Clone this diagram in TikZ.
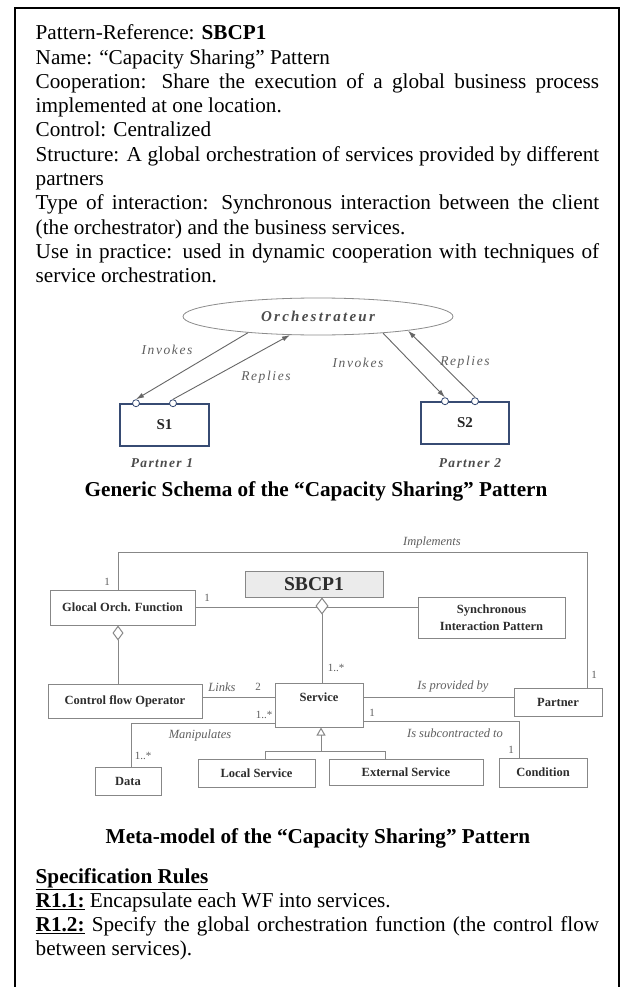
\documentclass[tikz,border=0pt]{standalone}
\usepackage{fontspec}
\setmainfont{Liberation Serif}
\usepackage{graphicx}
\usetikzlibrary{arrows.meta,shapes.geometric}
\definecolor{sbord}{RGB}{55,75,115}
\definecolor{lblc}{RGB}{95,95,95}
\definecolor{mgray}{RGB}{135,135,135}
\definecolor{mtext}{RGB}{45,45,45}
\newcommand\bodyfont{\fontsize{21.2}{24.25}\selectfont}
\newcommand\jline[1]{\makebox[563.5pt][s]{#1}}
\begin{document}
\begin{tikzpicture}[x=1pt,y=-1pt,
  txt/.style={anchor=base west, inner sep=0pt, font=\bodyfont},
  captxt/.style={anchor=base, inner sep=0pt, font=\bodyfont\bfseries},
  sbox/.style={draw=sbord, line width=1.6pt, inner sep=0pt, font=\fontsize{15}{17}\selectfont\bfseries, text=black!85},
  port/.style={circle, draw=sbord, fill=white, line width=0.8pt, minimum size=7pt, inner sep=0pt},
  sarr/.style={draw=black!60, line width=0.9pt, -{Latex[length=8pt,width=5pt]}},
  slbl/.style={inner sep=0pt, text=lblc, font=\fontsize{13.5}{15}\selectfont\itshape\addfontfeatures{LetterSpace=12}},
  plbl/.style={inner sep=0pt, text=black!70, font=\fontsize{13.5}{15}\selectfont\bfseries\itshape\addfontfeatures{LetterSpace=10}},
  mbox/.style={draw=mgray, line width=1pt, inner sep=0pt, text=mtext, font=\fontsize{12.5}{17}\selectfont\bfseries},
  mln/.style={draw=mgray, line width=1pt},
  mlbl/.style={inner sep=0pt, text=lblc, font=\fontsize{12.5}{14}\selectfont\itshape},
  mnum/.style={inner sep=0pt, text=lblc, font=\fontsize{11}{12}\selectfont}
]
\useasboundingbox (0,0) rectangle (621,987);
\fill[white] (0,0) rectangle (621,987);
% frame
\draw[line width=2pt] (14.7,995) |- (618.5,8) -- (618.5,995);

% header text
\node[txt] (t0) at (35.5,40) {Pattern-Reference: \textbf{SBCP1}};
\node[txt] (t1) at (35.5,64.25) {Name: “Capacity Sharing” Pattern};
\node[txt] (t2) at (35.5,88.5) {\jline{Cooperation: Share the execution of a global business process}};
\node[txt] (t3) at (35.5,112.75) {implemented at one location.};
\node[txt] (t4) at (35.5,137) {Control: Centralized};
\node[txt] (t5) at (35.5,161.25) {\jline{Structure: A global orchestration of services provided by different}};
\node[txt] (t6) at (35.5,185.5) {partners};
\node[txt] (t7) at (35.5,209.75) {\jline{Type of interaction: Synchronous interaction between the client}};
\node[txt] (t8) at (35.5,234) {(the orchestrator) and the business services.};
\node[txt] (t9) at (35.5,258.25) {\jline{Use in practice: used in dynamic cooperation with techniques of}};
\node[txt] (t10) at (35.5,282.5) {service orchestration.};

% generic schema
\node[ellipse, draw=black!45, line width=0.8pt, minimum width=270pt, minimum height=37pt, inner sep=0pt,
      text=black!70, font=\fontsize{15}{17}\selectfont\bfseries\itshape\addfontfeatures{LetterSpace=15}] (orc) at (318,316.5) {Orchestrateur};
\node[sbox, minimum width=89pt, minimum height=42pt] (s1) at (164.5,425) {S1};
\node[sbox, minimum width=88pt, minimum height=42pt] (s2) at (465,423) {S2};
\node[port] (p1a) at ([xshift=-28.5pt]s1.north) {};
\node[port] (p1b) at ([xshift=8.5pt]s1.north) {};
\node[port] (p2a) at ([xshift=-20pt]s2.north) {};
\node[port] (p2b) at ([xshift=10pt]s2.north) {};
\draw[sarr] ([xshift=-70pt,yshift=2.7pt]orc.south) -- (p1a.north);
\draw[sarr] (p1b.north) -- ([xshift=-28pt,yshift=0.4pt]orc.south);
\draw[sarr] ([xshift=65pt,yshift=2.3pt]orc.south) -- (p2a.north);
\draw[sarr] (p2b.north) -- ([xshift=90pt,yshift=4.7pt]orc.south);
\node[slbl] (inv1) at (167,350) {Invokes};
\node[slbl] (rep1) at (266,377) {Replies};
\node[slbl] (inv2) at (358,363) {Invokes};
\node[slbl] (rep2) at (465,362) {Replies};
\node[plbl] (pt1) at (162,463) {Partner 1};
\node[plbl] (pt2) at (470,463) {Partner 2};
\node[captxt] (c1) at (316,496) {Generic Schema of the “Capacity Sharing” Pattern};

% meta-model
\node[mbox, minimum width=145pt, minimum height=35pt] (glo) at (122.5,607.5) {Glocal Orch. Function};
\node[mbox, fill=black!8, minimum width=138pt, minimum height=26pt, font=\fontsize{19.6}{22}\selectfont\bfseries] (sb) at (314,584) {SBCP1};
\node[mbox, minimum width=147pt, minimum height=41pt, align=center] (syn) at (491.5,617.5) {Synchronous\\Interaction Pattern};
\node[mbox, minimum width=154pt, minimum height=34pt] (cfo) at (125,701) {Control flow Operator};
\node[mbox, minimum width=88pt, minimum height=44pt] (srv) at (319,705) {};
\node[inner sep=0pt, text=mtext, font=\fontsize{12.5}{14}\selectfont\bfseries] (srvt) at (319,697) {Service};
\node[mbox, minimum width=88pt, minimum height=28pt] (ptn) at (558,702) {Partner};
\node[mbox, minimum width=66pt, minimum height=28pt] (dat) at (128,781) {Data};
\node[mbox, minimum width=117pt, minimum height=28pt] (loc) at (256.5,773) {Local Service};
\node[mbox, minimum width=154pt, minimum height=26pt] (ext) at (406,772) {External Service};
\node[mbox, minimum width=88pt, minimum height=29pt] (cnd) at (543,772.5) {Condition};

% implements
\draw[mln] ([xshift=-4.5pt]glo.north) -- ++(0,-37) -| ([xshift=29pt]ptn.north);
% glo -- syn line with SBCP1 aggregation
\draw[mln] (glo.east) -- (glo.east -| syn.west);
\coordinate (dA) at ([xshift=8pt]sb.south);
\draw[mln, {Diamond[fill=white,width=13pt,length=17pt]}-] (dA) -- (dA |- srv.north);
\coordinate (gA) at ([xshift=-4.5pt]glo.south);
\draw[mln, {Diamond[fill=white,width=11pt,length=15pt]}-] (gA) -- (gA |- cfo.north);
% links
\coordinate (lA) at ([yshift=4pt]cfo.east);
\draw[mln] (lA) -- (lA -| srv.west);
% is provided by
\coordinate (pA) at ([yshift=8pt]srv.east);
\draw[mln] (pA) -- (pA -| ptn.west);
% manipulates
\coordinate (mA) at ([yshift=-18pt]srv.west);
\coordinate (mB) at ([xshift=3pt]dat.north);
\draw[mln] (mA) -| (mB);
% subcontracted
\coordinate (sA) at ([yshift=-16pt]srv.east);
\coordinate (sB) at ([xshift=-24pt]cnd.north);
\draw[mln] (sA) -| (sB);
% generalization
\coordinate (gT) at ([xshift=2pt]srv.south);
\coordinate (gB) at ([xshift=2pt,yshift=-24pt]srv.south);
\draw[mln, -{Triangle[open,width=9pt,length=8pt]}] (gB) -- (gT);
\coordinate (lB) at ([xshift=8.5pt]loc.north);
\coordinate (eB) at ([xshift=-21pt]ext.north);
\draw[mln] (lB) |- (gB) -| (eB);

% meta-model labels
\node[mlbl] (limp) at (432,542) {Implements};
\node[mnum] (n1) at (107,582) {1};
\node[mnum] (n2) at (207,598) {1};
\node[mnum] (n3) at (336,668) {1..*};
\node[mlbl] (llink) at (222,687) {Links};
\node[mnum] (n4) at (258,687) {2};
\node[mlbl] (lprov) at (453,687) {Is provided by};
\node[mnum] (n5) at (594,675) {1};
\node[mnum] (n6) at (264,715) {1..*};
\node[mnum] (n7) at (372,713) {1};
\node[mlbl] (lman) at (200,735) {Manipulates};
\node[mlbl] (lsub) at (455,733) {Is subcontracted to};
\node[mnum] (n8) at (143,756) {1..*};
\node[mnum] (n9) at (511,750) {1};
\node[captxt] (c2) at (318,843) {Meta-model of the “Capacity Sharing” Pattern};

% specification rules
\node[txt] (sr) at (35.5,883) {\textbf{\underline{Specification Rules}}};
\node[txt] (r1) at (35.5,907.25) {\textbf{\underline{R1.1:}} Encapsulate each WF into services.};
\node[txt] (r2) at (35.5,931.5) {\jline{\textbf{\underline{R1.2:}} Specify the global orchestration function (the control flow}};
\node[txt] (r3) at (35.5,955.75) {between services).};
\end{tikzpicture}
\end{document}
